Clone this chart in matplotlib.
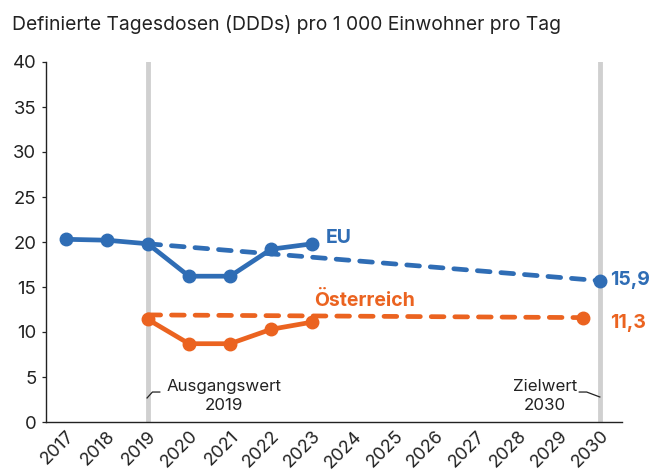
import matplotlib
matplotlib.use("Agg")
import matplotlib.pyplot as plt
import numpy as np

plt.rcParams['font.family'] = ['Inter', 'DejaVu Sans']

years = [2017, 2018, 2019, 2020, 2021, 2022, 2023]
eu_values = [20.3, 20.2, 19.8, 16.2, 16.2, 19.2, 19.8]
at_values = [11.4, 8.7, 8.7, 10.3, 11.1]
at_years = [2019, 2020, 2021, 2022, 2023]
eu_target_years = [2019, 2030]
eu_target_values = [19.8, 15.7]
at_target_years = [2019, 2029.6]
at_target_values = [11.9, 11.6]
eu_target_label = "15,9"
at_target_label = "11,3"
xtick_years = list(range(2017, 2031))
yticks = [0, 5, 10, 15, 20, 25, 30, 35, 40]

BLUE = "#2f6db5"
ORANGE = "#eb6320"
GRAY = "#d0d0d0"
TXT = "#222222"

fig = plt.figure(figsize=(6.51, 4.73), dpi=100)
ax = fig.add_axes([46/651, 1-422/473, (622-46)/651, (422-62)/473])

ax.set_xlim(2016.52, 2030.54)
ax.set_ylim(0, 40)

for x in (2019, 2030):
    ax.axvline(x, color=GRAY, lw=3.5, zorder=1)

LW = 3.4
dash = (0, (2.7, 2.3))
ax.plot(eu_target_years, eu_target_values, color=BLUE, lw=LW, ls=dash,
        dash_capstyle='round', zorder=3)
ax.plot([eu_target_years[-1]], [eu_target_values[-1]], 'o', color=BLUE, ms=9, zorder=4)
ax.plot(at_target_years, at_target_values, color=ORANGE, lw=LW, ls=dash,
        dash_capstyle='round', zorder=3)
ax.plot([at_target_years[-1]], [at_target_values[-1]], 'o', color=ORANGE, ms=9, zorder=4)

ax.plot(years, eu_values, color=BLUE, lw=LW, marker='o', ms=9, zorder=5,
        solid_capstyle='round', solid_joinstyle='round')
ax.plot(at_years, at_values, color=ORANGE, lw=LW, marker='o', ms=9, zorder=5,
        solid_capstyle='round', solid_joinstyle='round')

LBL = 14
ax.text(2023.32, 20.5, "EU", color=BLUE, fontsize=LBL, fontweight='bold',
        ha='left', va='center')
ax.text(2023.05, 13.5, "Österreich", color=ORANGE, fontsize=LBL, fontweight='bold',
        ha='left', va='center')
ax.text(2030.24, 15.8, eu_target_label, color=BLUE, fontsize=LBL, fontweight='bold',
        ha='left', va='center', clip_on=False)
ax.text(2030.26, 11.0, at_target_label, color=ORANGE, fontsize=LBL, fontweight='bold',
        ha='left', va='center', clip_on=False)

# annotations
ax.text(2020.85, 2.9, "Ausgangswert\n2019", ha='center', va='center', fontsize=12.2,
        color=TXT, linespacing=1.4)
ax.plot([2018.98, 2019.11, 2019.29], [2.67, 3.33, 3.33], color=TXT, lw=0.9, zorder=2)
ax.text(2028.66, 2.9, "Zielwert\n2030", ha='center', va='center', fontsize=12.2,
        color=TXT, linespacing=1.4)
ax.plot([2029.5, 2029.68, 2030.0], [3.33, 3.33, 2.78], color=TXT, lw=0.9, zorder=2)

ax.set_yticks(yticks)
ax.set_yticklabels([str(v) for v in yticks], fontsize=13.3, color=TXT)
ax.set_xticks(xtick_years)
ax.set_xticklabels([str(y) for y in xtick_years], fontsize=13, color=TXT,
                   rotation=45, ha='right', va='top', rotation_mode='anchor')
for lab in ax.get_xticklabels():
    lab.set_transform(lab.get_transform() + matplotlib.transforms.ScaledTranslation(0.09, 0.0, fig.dpi_scale_trans))

ax.tick_params(axis='x', length=0, pad=4)
ax.tick_params(axis='y', length=3, width=0.9, color=TXT, pad=4)

for s in ('top', 'right'):
    ax.spines[s].set_visible(False)
ax.spines['left'].set_color(TXT)
ax.spines['bottom'].set_color(TXT)
ax.spines['left'].set_linewidth(1)
ax.spines['bottom'].set_linewidth(1)

fig.text(12/651, 1-25/473, "Definierte Tagesdosen (DDDs) pro 1 000 Einwohner pro Tag",
         fontsize=13.9, color=TXT, ha='left', va='center')

fig.savefig("out.png", dpi=100)
